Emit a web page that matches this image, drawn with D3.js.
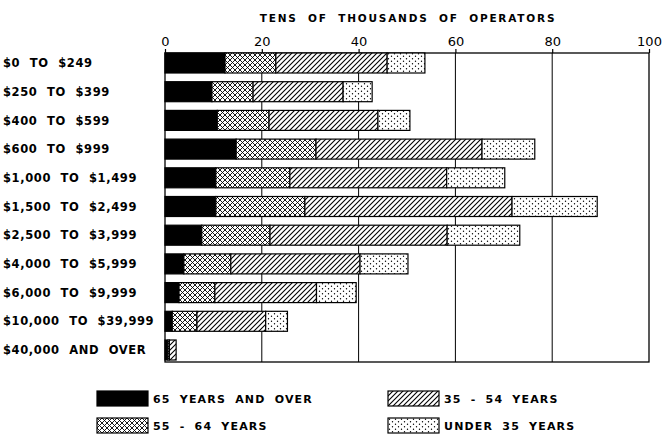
<!DOCTYPE html>
<html>
<head>
<meta charset="utf-8">
<script src="https://cdn.jsdelivr.net/npm/d3@7"></script>
<style>
  body { margin: 0; background: #fff; }
  text { font-family: "DejaVu Sans", sans-serif; fill: #000; }
</style>
</head>
<body>
<div id="chart"></div>
<script>
// income classes (rows, top to bottom)
const categories = [
    "$0 TO $249", "$250 TO $399", "$400 TO $599", "$600 TO $999",
    "$1,000 TO $1,499", "$1,500 TO $2,499", "$2,500 TO $3,999",
    "$4,000 TO $5,999", "$6,000 TO $9,999", "$10,000 TO $39,999",
    "$40,000 AND OVER"
];
// tens of thousands of operators, per age group
const over65  = [12.4, 9.7, 10.8, 14.7, 10.5, 10.5, 7.6, 3.9, 2.9, 1.5, 0.6];
const age5564 = [10.5, 8.5, 10.7, 16.5, 15.3, 18.4, 14.1, 9.7, 7.4, 5.1, 0.3];
const age3554 = [23.0, 18.6, 22.5, 34.3, 32.4, 42.8, 36.6, 26.7, 21.0, 14.2, 1.4];
const under35 = [7.8, 6.0, 6.6, 10.9, 12.0, 17.6, 15.0, 9.9, 8.2, 4.5, 0];
const ticks = [0, 20, 40, 60, 80, 100];
const seriesKeys = ["over65", "age5564", "age3554", "under35"];
const legendLabels = ["65 YEARS AND OVER", "55 - 64 YEARS", "35 - 54 YEARS", "UNDER 35 YEARS"];

const width = 663, height = 439;
const plotLeft = 165, plotRight = 649, plotTop = 53, plotBottom = 362;

const svg = d3.select("#chart").append("svg")
    .attr("width", width).attr("height", height);

// fill patterns
const defs = svg.append("defs");
function pattern(id, w, h, draw) {
    const p = defs.append("pattern").attr("id", id)
        .attr("patternUnits", "userSpaceOnUse").attr("width", w).attr("height", h);
    p.append("rect").attr("width", w).attr("height", h).attr("fill", "#fff");
    draw(p);
}
pattern("cross", 5, 5, p => p.append("path")
    .attr("d", "M0,0L5,5M0,5L5,0M-1,1L1,-1M4,6L6,4M-1,4L1,6M4,-1L6,1")
    .attr("stroke", "#000").attr("stroke-width", 0.9));
pattern("diag", 5, 5, p => p.append("path")
    .attr("d", "M-1,1L1,-1M0,5L5,0M4,6L6,4")
    .attr("stroke", "#000").attr("stroke-width", 1.1));
pattern("dots", 6, 5, p => {
    p.append("circle").attr("cx", 1.5).attr("cy", 1.2).attr("r", 0.7).attr("fill", "#000");
    p.append("circle").attr("cx", 4.5).attr("cy", 3.7).attr("r", 0.7).attr("fill", "#000");
});
const fills = { over65: "#000", age5564: "url(#cross)", age3554: "url(#diag)", under35: "url(#dots)" };

const x = d3.scaleLinear().domain([0, 100]).range([plotLeft, plotRight]);
const y = d3.scalePoint().domain(categories).range([63, 350]);
const barH = 20;

// title
svg.append("text")
    .attr("x", 408).attr("y", 22)
    .attr("text-anchor", "middle")
    .attr("font-size", 10.5).attr("font-weight", "bold")
    .attr("letter-spacing", 1.8).attr("word-spacing", 5)
    .text("TENS OF THOUSANDS OF OPERATORS");

// gridlines and frame
svg.append("g").selectAll("line")
    .data(ticks.slice(1, -1)).join("line")
    .attr("x1", d => x(d)).attr("x2", d => x(d))
    .attr("y1", plotTop).attr("y2", plotBottom)
    .attr("stroke", "#000").attr("stroke-width", 1);
svg.append("rect")
    .attr("x", plotLeft).attr("y", plotTop)
    .attr("width", plotRight - plotLeft).attr("height", plotBottom - plotTop)
    .attr("fill", "none").attr("stroke", "#000").attr("stroke-width", 1.3);

// top axis
const axis = svg.append("g")
    .attr("transform", `translate(0,${plotTop})`)
    .call(d3.axisTop(x).tickValues(ticks).tickSize(4).tickSizeOuter(0).tickPadding(3));
axis.select(".domain").remove();
axis.selectAll("line").attr("stroke", "#000").attr("stroke-width", 1.2);
axis.selectAll("text")
    .attr("font-size", 13)
    .attr("font-family", "DejaVu Sans, sans-serif")
    .attr("fill", "#000");

// stacked bars
const rows = categories.map((c, i) => ({
    category: c, over65: over65[i], age5564: age5564[i], age3554: age3554[i], under35: under35[i]
}));
const stacked = d3.stack().keys(seriesKeys)(rows);

svg.append("g").selectAll("g")
    .data(stacked).join("g")
    .attr("fill", d => fills[d.key])
    .selectAll("rect")
    .data(d => d.filter(s => s[1] - s[0] > 0))
    .join("rect")
    .attr("x", d => x(d[0]))
    .attr("y", d => y(d.data.category) - barH / 2)
    .attr("width", d => x(d[1]) - x(d[0]))
    .attr("height", barH)
    .attr("stroke", "#000").attr("stroke-width", 1.2);

// row labels
svg.append("g").selectAll("text")
    .data(categories).join("text")
    .attr("x", 3)
    .attr("y", d => y(d))
    .attr("dy", "0.36em")
    .attr("font-size", 11.5).attr("font-weight", "bold")
    .attr("letter-spacing", 0.6).attr("word-spacing", 5)
    .text(d => d);

// legend
const legendPos = [[97, 391], [97, 418], [388, 391], [388, 418]];
const legend = svg.append("g").selectAll("g")
    .data(seriesKeys).join("g")
    .attr("transform", (d, i) => `translate(${legendPos[i][0]},${legendPos[i][1]})`);
legend.append("rect")
    .attr("width", 51).attr("height", 15)
    .attr("fill", d => fills[d])
    .attr("stroke", "#000").attr("stroke-width", 1.2);
legend.append("text")
    .attr("x", 56).attr("y", 8).attr("dy", "0.36em")
    .attr("font-size", 11).attr("font-weight", "bold")
    .attr("letter-spacing", 1.2).attr("word-spacing", 4)
    .text((d, i) => legendLabels[i]);
</script>
</body>
</html>
